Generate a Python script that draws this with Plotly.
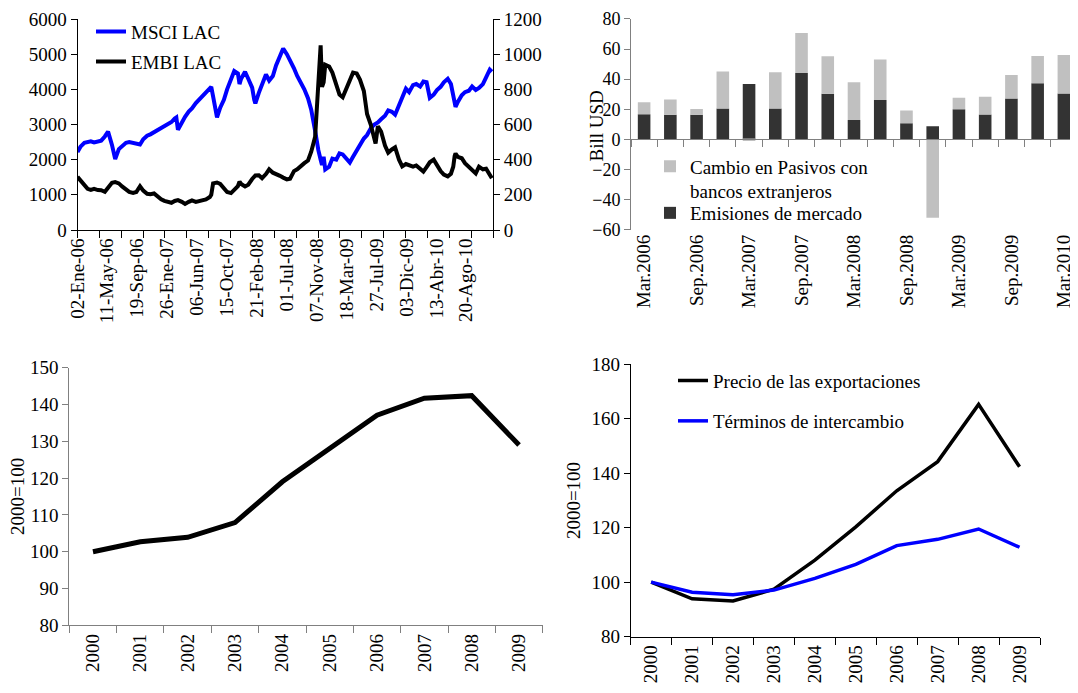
import plotly.graph_objects as go
import pandas as pd

FONT = "Liberation Serif"
REF_W, REF_H = 1078, 693
OFF = 8                      # default body margin of the html page
W, H = REF_W - OFF, REF_H - OFF

# ---------------- Panel 1: MSCI LAC / EMBI LAC ----------------
dates = [
    "2006-01-02", "2006-01-15", "2006-02-01", "2006-02-15", "2006-03-01", "2006-03-15",
    "2006-04-01", "2006-04-15", "2006-05-01", "2006-05-15", "2006-06-01", "2006-06-15",
    "2006-07-01", "2006-07-15", "2006-08-01", "2006-08-15", "2006-09-01", "2006-09-15",
    "2006-10-01", "2006-10-15", "2006-11-01", "2006-11-15", "2006-12-01", "2006-12-15",
    "2007-01-01", "2007-01-15", "2007-02-01", "2007-02-15", "2007-03-01", "2007-03-08",
    "2007-03-15", "2007-04-01", "2007-04-15", "2007-05-01", "2007-05-15", "2007-06-01",
    "2007-06-15", "2007-07-01", "2007-07-15", "2007-08-01", "2007-08-07", "2007-08-15",
    "2007-09-01", "2007-09-15", "2007-10-01", "2007-10-15", "2007-11-01", "2007-11-15",
    "2007-12-01", "2007-12-08", "2007-12-15", "2008-01-01", "2008-01-15", "2008-02-01",
    "2008-02-10", "2008-02-15", "2008-03-01", "2008-03-15", "2008-04-01", "2008-04-15",
    "2008-05-01", "2008-05-15", "2008-06-01", "2008-06-15", "2008-07-01", "2008-07-15",
    "2008-08-01", "2008-08-15", "2008-09-01", "2008-09-15", "2008-10-01", "2008-10-15",
    "2008-11-01", "2008-11-08", "2008-11-15", "2008-11-25", "2008-12-01", "2008-12-08",
    "2008-12-15", "2009-01-01", "2009-01-15", "2009-02-01", "2009-02-15", "2009-03-01",
    "2009-03-15", "2009-04-01", "2009-04-15", "2009-05-01", "2009-05-15", "2009-06-01",
    "2009-06-15", "2009-07-01", "2009-07-15", "2009-07-22", "2009-08-01", "2009-08-15",
    "2009-09-01", "2009-09-15", "2009-10-01", "2009-10-15", "2009-11-01", "2009-11-15",
    "2009-12-01", "2009-12-15", "2010-01-01", "2010-01-15", "2010-02-01", "2010-02-15",
    "2010-03-01", "2010-03-15", "2010-04-01", "2010-04-15", "2010-05-01", "2010-05-15",
    "2010-06-01", "2010-06-15", "2010-06-25", "2010-07-01", "2010-07-05", "2010-07-15",
    "2010-08-01", "2010-08-15", "2010-09-01", "2010-09-15", "2010-10-01", "2010-10-15",
    "2010-11-01", "2010-11-15", "2010-12-01", "2010-12-10",
]
msci_lac = [
    2220, 2370, 2480, 2510, 2520, 2490,
    2520, 2540, 2660, 2800, 2420, 2020,
    2300, 2370, 2480, 2500, 2470, 2430,
    2430, 2580, 2680, 2720, 2780, 2830,
    2900, 2940, 3030, 3070, 3170, 3200,
    2850, 3080, 3220, 3370, 3460, 3610,
    3710, 3800, 3900, 4030, 4070, 3800,
    3200, 3480, 3700, 4000, 4250, 4520,
    4450, 4150, 4300, 4500, 4300, 4050,
    3700, 3600, 3900, 4150, 4420, 4250,
    4380, 4680, 4920, 5160, 5000, 4830,
    4600, 4380, 4200, 4000, 3750, 3420,
    2820, 2500, 2270, 2000, 1850, 2080,
    1720, 1800, 2030, 2000, 2180, 2150,
    2040, 1920, 2080, 2270, 2450, 2600,
    2700, 2890, 2990, 3010, 3060, 3150,
    3250, 3400, 3360, 3280, 3550, 3780,
    4020, 3920, 4120, 4150, 4080, 4220,
    4200, 3760, 3850, 3980, 4070, 4200,
    4300, 4150, 3830, 3650, 3500, 3640,
    3830, 3920, 3960, 4080, 3980, 4040,
    4150, 4340, 4560, 4500,
]
embi_lac = [
    302, 280, 250, 234, 228, 234,
    227, 226, 217, 240, 268, 272,
    265, 248, 230, 217, 211, 216,
    249, 224, 206, 204, 208, 192,
    175, 166, 158, 155, 165, 168,
    170, 160, 148, 160, 168, 160,
    166, 170, 174, 188, 200, 265,
    270, 262, 235, 216, 210, 228,
    250, 275, 262, 248, 258, 290,
    305, 310, 311, 295, 318, 345,
    326, 320, 308, 298, 288, 292,
    335, 345, 368, 380, 395, 445,
    530, 700, 780, 1050, 814, 840,
    940, 930, 895, 830, 770, 755,
    795, 850, 895, 890, 855, 790,
    660, 600, 515, 492, 590, 560,
    480, 440, 458, 470, 400, 362,
    375, 370, 360, 367, 349, 332,
    358, 385, 400, 368, 335, 315,
    305, 320, 360, 420, 435, 416,
    408, 380, 357, 338, 322, 360,
    345, 348, 312, 295,
]
date_tick_vals = [
    "2006-01-02", "2006-05-11", "2006-09-19", "2007-01-26", "2007-06-06", "2007-10-15",
    "2008-02-21", "2008-07-01", "2008-11-07", "2009-03-18", "2009-07-27", "2009-12-03",
    "2010-04-13", "2010-08-20",
]
date_tick_text = [
    "02-Ene-06", "11-May-06", "19-Sep-06", "26-Ene-07", "06-Jun-07", "15-Oct-07",
    "21-Feb-08", "01-Jul-08", "07-Nov-08", "18-Mar-09", "27-Jul-09", "03-Dic-09",
    "13-Abr-10", "20-Ago-10",
]

# ---------------- Panel 2: stacked bars ----------------
quarters = [
    "Mar.2006", "Jun.2006", "Sep.2006", "Dic.2006", "Mar.2007", "Jun.2007", "Sep.2007",
    "Dic.2007", "Mar.2008", "Jun.2008", "Sep.2008", "Dic.2008", "Mar.2009", "Jun.2009",
    "Sep.2009", "Dic.2009", "Mar.2010",
]
emisiones = [16.7, 16.3, 16.3, 20.4, 36.7, 20.4, 44.1, 30.2, 12.8, 26.1, 10.7, 8.7,
             20.0, 16.5, 27.2, 37.2, 30.4]
pasivos = [7.9, 10.2, 3.9, 24.6, -1.1, 24.2, 26.6, 25.0, 25.2, 26.9, 8.4, -52.2,
           7.6, 11.8, 15.6, 18.2, 25.7]
bar_ticks = [-60, -40, -20, 0, 20, 40, 60, 80]

# ---------------- Panel 3 & 4: annual indices ----------------
years = ["2000", "2001", "2002", "2003", "2004", "2005", "2006", "2007", "2008", "2009"]
indice_bl = [100.0, 102.7, 103.9, 107.9, 119.0, 128.1, 137.1, 141.7, 142.4, 129.0]
precio_export = [100.0, 93.9, 93.1, 97.4, 108.1, 120.3, 133.5, 144.2, 165.2, 142.3]
terminos_inter = [100.0, 96.3, 95.4, 97.1, 101.4, 106.5, 113.4, 115.7, 119.5, 112.8]


def px_x(p):
    return (p - OFF) / W


def px_y(p):
    return 1 - (p - OFF) / H


fig = go.Figure()
font = dict(family=FONT, size=19, color="black")
font_small = dict(family=FONT, size=18, color="black")

# ---- Panel 1 traces
fig.add_trace(go.Scatter(x=dates, y=msci_lac, mode="lines", name="MSCI LAC",
                         line=dict(color="#0000ff", width=4), xaxis="x", yaxis="y",
                         legend="legend"))
fig.add_trace(go.Scatter(x=dates, y=embi_lac, mode="lines", name="EMBI LAC",
                         line=dict(color="black", width=4), xaxis="x", yaxis="y2",
                         legend="legend2"))

# ---- Panel 2 traces
qx = list(range(len(quarters)))
fig.add_trace(go.Bar(x=qx, y=emisiones, name="Emisiones de mercado",
                     marker=dict(color="#333333", line=dict(width=0)),
                     xaxis="x2", yaxis="y3", legend="legend4"))
fig.add_trace(go.Bar(x=qx, y=pasivos, name="Cambio en Pasivos con<br>bancos extranjeros",
                     marker=dict(color="#c0c0c0", line=dict(width=0)),
                     xaxis="x2", yaxis="y3", legend="legend3"))
# invisible helper on the zero-line axis
fig.add_trace(go.Scatter(x=qx, y=emisiones, mode="markers", marker=dict(opacity=0),
                         showlegend=False, hoverinfo="skip", xaxis="x5", yaxis="y3"))

# ---- Panel 3
yx = list(range(len(years)))
fig.add_trace(go.Scatter(x=yx, y=indice_bl, mode="lines", showlegend=False,
                         line=dict(color="black", width=5), xaxis="x3", yaxis="y4"))

# ---- Panel 4
fig.add_trace(go.Scatter(x=yx, y=precio_export, mode="lines", name="Precio de las exportaciones",
                         line=dict(color="black", width=3.5), xaxis="x4", yaxis="y5",
                         legend="legend5"))
fig.add_trace(go.Scatter(x=yx, y=terminos_inter, mode="lines", name="Términos de intercambio",
                         line=dict(color="#0000ff", width=3.5), xaxis="x4", yaxis="y5",
                         legend="legend6"))

# minor ticks for daily axis: 19 equal divisions
rng_start, rng_end = pd.Timestamp("2006-01-02"), pd.Timestamp("2010-12-15")
minor_dates = [d.strftime("%Y-%m-%d %H:%M") for d in pd.date_range(rng_start, rng_end, periods=20)]

# domains (reference pixel positions)
d1x = [px_x(77.5), px_x(493)]
d1y = [px_y(230), px_y(19)]
d2x = [px_x(631), px_x(1077)]
d2y = [px_y(230), px_y(18.5)]
d3x = [px_x(69.3), px_x(542.7)]
d3y = [px_y(625.3), px_y(367.7)]
d4x = [px_x(630.7), px_x(1040)]
d4y = [px_y(636.7), px_y(364)]

bar_range = [bar_ticks[0], bar_ticks[-1]]
zero_pos = d2y[0] + (0 - bar_range[0]) / (bar_range[1] - bar_range[0]) * (d2y[1] - d2y[0])

axis_common = dict(showgrid=False, zeroline=False, showline=True, automargin=False,
                   ticklabeloverflow="allow")

fig.update_layout(
    template="none",
    width=W, height=H, margin=dict(l=0, r=0, t=0, b=0, autoexpand=False),
    paper_bgcolor="white", plot_bgcolor="white",
    font=font, barmode="relative", bargap=0.52,
    xaxis=dict(domain=d1x, anchor="y", type="date",
               range=[rng_start.strftime("%Y-%m-%d"), rng_end.strftime("%Y-%m-%d")],
               tickmode="array", tickvals=date_tick_vals, ticktext=date_tick_text,
               tickangle=-90, ticks="", linecolor="black", linewidth=1, tickfont=font,
               minor=dict(tickmode="array", tickvals=minor_dates, ticks="outside",
                          ticklen=7, tickcolor="black"),
               **axis_common),
    yaxis=dict(domain=d1y, anchor="x", range=[0, 6000], dtick=1000, ticks="outside",
               ticklen=6, linecolor="black", tickcolor="black", tickfont=font,
               **axis_common),
    yaxis2=dict(overlaying="y", side="right", anchor="x", range=[0, 1200], dtick=200,
                ticks="outside", ticklen=6, linecolor="black", tickcolor="black",
                tickfont=font, **axis_common),
    xaxis2=dict(domain=d2x, anchor="y3", range=[-0.5, len(quarters) - 0.5],
                tickmode="array", tickvals=qx[::2], ticktext=quarters[::2],
                tickangle=-90, ticks="", showgrid=False, zeroline=False, showline=False,
                tickfont=font, automargin=False, ticklabeloverflow="allow"),
    xaxis5=dict(overlaying="x2", anchor="free", position=zero_pos,
                range=[-0.5, len(quarters) - 0.5], showticklabels=False, ticks="",
                showgrid=False, zeroline=False, showline=True, linecolor="#808080",
                automargin=False,
                minor=dict(tickmode="linear", tick0=-0.5, dtick=1, ticks="outside",
                           ticklen=7, tickcolor="#808080")),
    yaxis3=dict(domain=d2y, anchor="x2", range=[bar_range[0] - 0.3, bar_range[1] + 0.3],
                tickmode="array", tickvals=bar_ticks, ticks="outside",
                ticklen=6, linecolor="#808080", tickcolor="#808080", tickfont=font_small,
                **axis_common),
    xaxis3=dict(domain=d3x, anchor="y4", range=[-0.5, len(years) - 0.5],
                tickmode="array", tickvals=yx, ticktext=years, tickangle=-90, ticks="",
                linecolor="#808080", tickfont=font,
                minor=dict(tickmode="linear", tick0=-0.5, dtick=1, ticks="outside",
                           ticklen=7, tickcolor="#808080"),
                **axis_common),
    yaxis4=dict(domain=d3y, anchor="x3", range=[80, 150], dtick=10, ticks="outside",
                ticklen=6, linecolor="#808080", tickcolor="#808080", tickfont=font,
                **axis_common),
    xaxis4=dict(domain=d4x, anchor="y5", range=[-0.5, len(years) - 0.5],
                tickmode="array", tickvals=yx, ticktext=years, tickangle=-90, ticks="",
                linecolor="black", tickfont=font,
                minor=dict(tickmode="linear", tick0=-0.5, dtick=1, ticks="outside",
                           ticklen=7, tickcolor="black"),
                **axis_common),
    yaxis5=dict(domain=d4y, anchor="x4", range=[80, 180], dtick=20, ticks="outside",
                ticklen=6, linecolor="black", tickcolor="black", tickfont=font,
                **axis_common),
)

leg = dict(font=font, bgcolor="rgba(0,0,0,0)", borderwidth=0, xanchor="left",
           yanchor="middle")
fig.update_layout(
    legend=dict(x=px_x(91), y=px_y(31.7), **leg),
    legend2=dict(x=px_x(91), y=px_y(61.7), **leg),
    legend3=dict(x=px_x(650), y=px_y(179), valign="top", **leg),
    legend4=dict(x=px_x(650), y=px_y(213), **leg),
    legend5=dict(x=px_x(673), y=px_y(380.7), **leg),
    legend6=dict(x=px_x(673), y=px_y(421), **leg),
)

ann = dict(xref="paper", yref="paper", textangle=-90, showarrow=False, font=font,
           xanchor="center", yanchor="middle")
fig.add_annotation(text="Bill USD", x=px_x(595.5), y=px_y(126), **ann)
fig.add_annotation(text="2000=100", x=px_x(17.3), y=px_y(496.7), **ann)
fig.add_annotation(text="2000=100", x=px_x(573.3), y=px_y(500.8), **ann)

fig.write_html("out.html")
